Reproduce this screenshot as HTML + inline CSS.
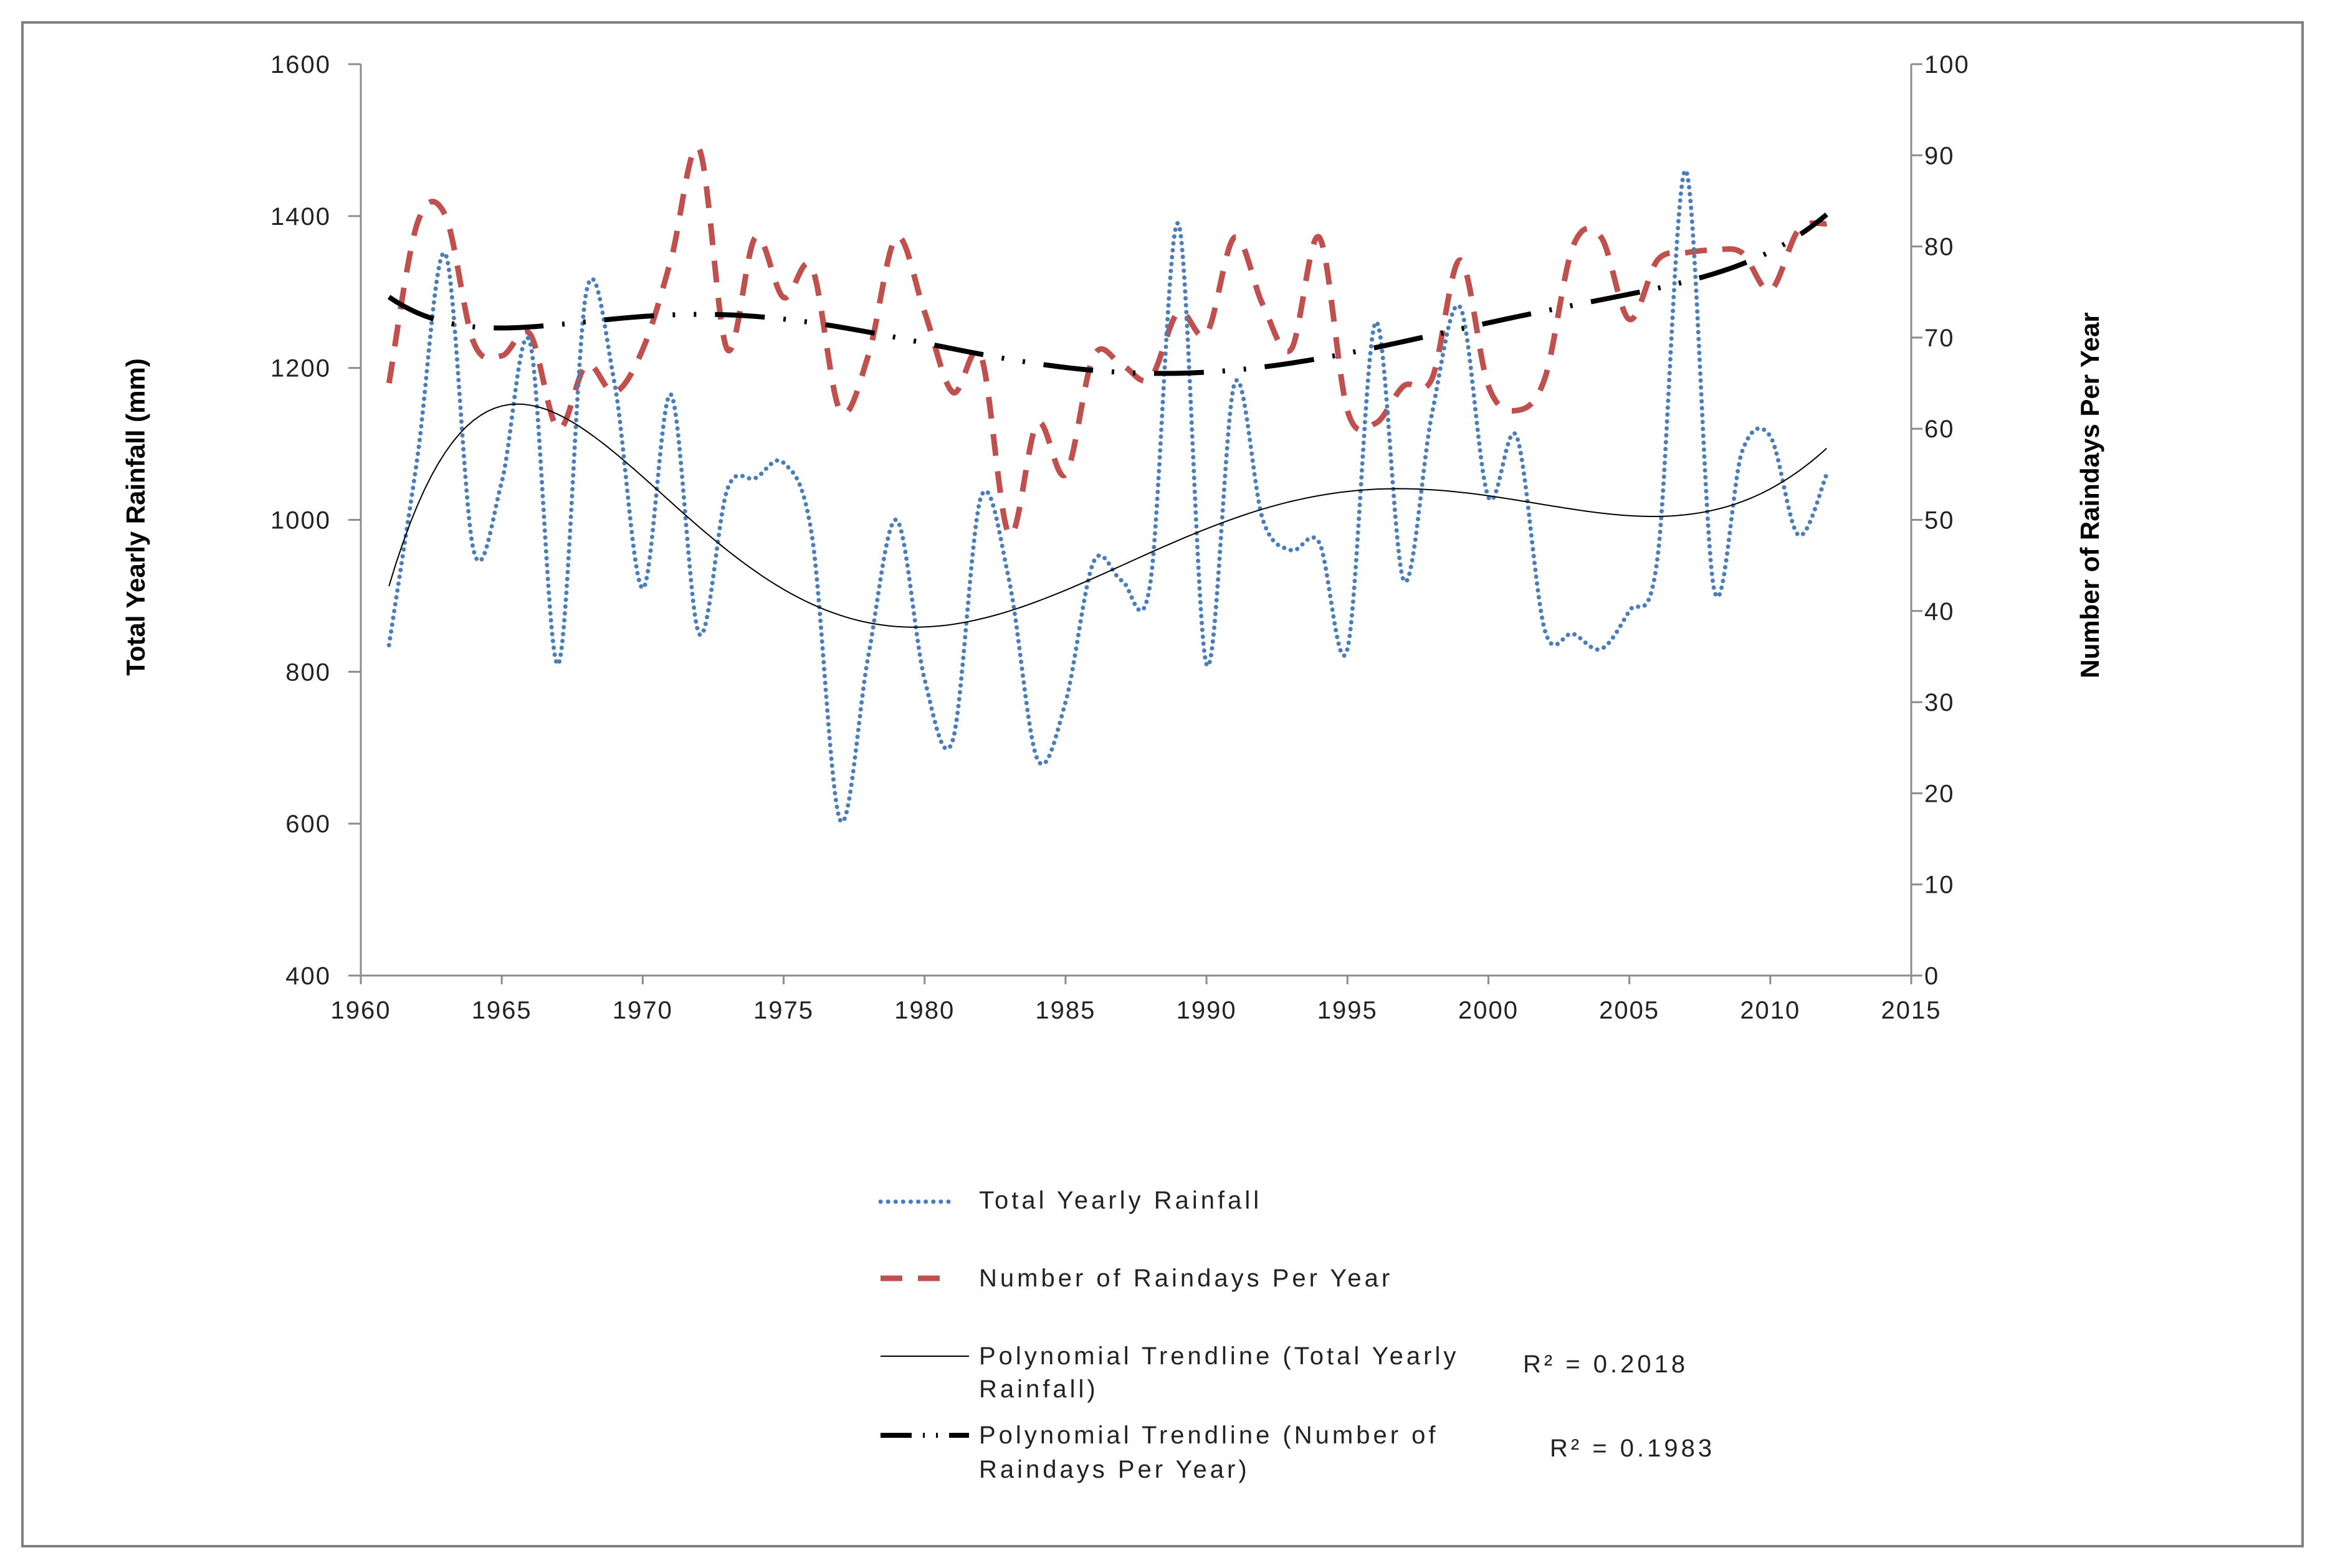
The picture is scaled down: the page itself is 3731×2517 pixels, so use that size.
<!DOCTYPE html>
<html><head><meta charset="utf-8"><style>
html,body{margin:0;padding:0;background:#fff;}
svg{display:block;font-family:"Liberation Sans",sans-serif;}
</style></head><body>
<svg id="chart" width="3731" height="2517" viewBox="0 0 3731 2517">
<rect x="36" y="36" width="3659" height="2446" fill="#fff" stroke="#7f7f7f" stroke-width="4"/>
<g id="axes"></g>
<g id="series"></g>
<text transform="translate(232,830) rotate(-90)" text-anchor="middle" font-size="42" font-weight="bold">Total Yearly Rainfall (mm)</text>
<text transform="translate(3368,795) rotate(-90)" text-anchor="middle" font-size="42" font-weight="bold">Number of Raindays Per Year</text>
<g font-size="40" fill="#222" letter-spacing="5">
 <g>
  <line x1="1413" y1="1929" x2="1530" y2="1929" stroke="#4a7ebb" stroke-width="7" stroke-dasharray="0.1 12" stroke-linecap="round"/>
  <text x="1571" y="1940">Total Yearly Rainfall</text></g>
 <g>
  <line x1="1413" y1="2052" x2="1530" y2="2052" stroke="#c0504d" stroke-width="9" stroke-dasharray="35 25"/>
  <text x="1571" y="2065">Number of Raindays Per Year</text></g>
 <g>
  <line x1="1413" y1="2177" x2="1555" y2="2177" stroke="#000" stroke-width="2"/>
  <text x="1571" y="2190">Polynomial Trendline (Total Yearly</text>
  <text x="1571" y="2243">Rainfall)</text>
  <text x="2444" y="2203">R² = 0.2018</text></g>
 <g>
  <line x1="1413" y1="2304" x2="1555" y2="2304" stroke="#000" stroke-width="8" stroke-dasharray="50 18 3 18 3 18"/>
  <text x="1571" y="2317">Polynomial Trendline (Number of</text>
  <text x="1571" y="2372">Raindays Per Year)</text>
  <text x="2487" y="2338">R² = 0.1983</text></g>
</g>
</svg>
<script>
const years = [];
for (let y = 1961; y <= 2012; y++) years.push(y);
const rainfall = [835,1080,1350,960,1050,1234,810,1300,1180,910,1165,850,1040,1055,1075,980,605,820,1000,790,710,1030,920,685,760,945,920,915,1390,810,1180,1000,960,970,830,1260,920,1140,1280,1030,1110,855,850,830,880,950,1460,910,1090,1110,980,1060];
const raindays = [65,82.5,83.4,69.5,68,70.4,60,67,64,68.7,78.5,90.7,68.7,81,74.4,77.7,62,68,81,72.8,64,68,48.4,60.6,55,68,67,65.5,72.8,70.4,81,73.6,68.7,81,62,60.6,64.7,65.5,78.5,64.7,62,65.5,80,81,72,78.5,79.3,79.6,79.3,75.2,81.8,82.5];
const xTicks = [1960,1965,1970,1975,1980,1985,1990,1995,2000,2005,2010,2015];
const leftTicks = [400,600,800,1000,1200,1400,1600];
const rightTicks = [0,10,20,30,40,50,60,70,80,90,100];

const L=579,R=3067,T=103,B=1566;
const xS=v=>L+(v-1960)/(2015-1960)*(R-L);
const yL=v=>B-(v-400)/1200*(B-T);
const yR=v=>B-v/100*(B-T);
const NS="http://www.w3.org/2000/svg";
function mk(tag,attrs,parent){const e=document.createElementNS(NS,tag);for(const k in attrs)e.setAttribute(k,attrs[k]);parent.appendChild(e);return e;}
const axes=document.getElementById('axes'), series=document.getElementById('series');
const ax='#8c8c8c';
let e;
e=mk('line',{x1:L,y1:T,x2:L,y2:B,stroke:ax,'stroke-width':3},axes);


e=mk('line',{x1:R,y1:T,x2:R,y2:B,stroke:ax,'stroke-width':3},axes);


e=mk('line',{x1:L-20,y1:B,x2:R,y2:B,stroke:ax,'stroke-width':3},axes);


xTicks.forEach(v=>{
  mk('line',{x1:xS(v),y1:B,x2:xS(v),y2:B+14,stroke:ax,'stroke-width':3},axes);
  const t=mk('text',{x:xS(v),y:B+69,'text-anchor':'middle','font-size':40,fill:'#222','letter-spacing':2},axes);t.textContent=v;
  
  
});
leftTicks.forEach(v=>{
  mk('line',{x1:L-20,y1:yL(v),x2:L,y2:yL(v),stroke:ax,'stroke-width':3},axes);
  const t=mk('text',{x:531,y:yL(v)+14,'text-anchor':'end','font-size':40,fill:'#222','letter-spacing':2},axes);t.textContent=v;
  
  
});
rightTicks.forEach(v=>{
  mk('line',{x1:R,y1:yR(v),x2:R+18,y2:yR(v),stroke:ax,'stroke-width':3},axes);
  const t=mk('text',{x:3088,y:yR(v)+14,'text-anchor':'start','font-size':40,fill:'#222','letter-spacing':2},axes);t.textContent=v;
  
  
});
function smooth(pts){
  let d=`M${pts[0][0]},${pts[0][1]}`;
  for(let i=0;i<pts.length-1;i++){
    const p0=pts[Math.max(0,i-1)],p1=pts[i],p2=pts[i+1],p3=pts[Math.min(pts.length-1,i+2)];
    const c1=[p1[0]+(p2[0]-p0[0])/6,p1[1]+(p2[1]-p0[1])/6];
    const c2=[p2[0]-(p3[0]-p1[0])/6,p2[1]-(p3[1]-p1[1])/6];
    d+=`C${c1[0]},${c1[1]} ${c2[0]},${c2[1]} ${p2[0]},${p2[1]}`;
  }
  return d;
}
function polyfit(xs,ys,n){
  const m=n+1,A=[];for(let i=0;i<m;i++){A.push(new Array(m+1).fill(0));}
  xs.forEach((x,k)=>{for(let i=0;i<m;i++){for(let j=0;j<m;j++)A[i][j]+=Math.pow(x,i+j);A[i][m]+=ys[k]*Math.pow(x,i);}});
  for(let i=0;i<m;i++){let p=i;for(let r=i+1;r<m;r++)if(Math.abs(A[r][i])>Math.abs(A[p][i]))p=r;[A[i],A[p]]=[A[p],A[i]];
    for(let r=0;r<m;r++){if(r===i)continue;const f=A[r][i]/A[i][i];for(let c=i;c<=m;c++)A[r][c]-=f*A[i][c];}}
  return A.map((row,i)=>row[m]/row[i]);
}
const tn=y=>(y-1986.5)/25.5;
function trendPath(vals,order,yf){
  const c=polyfit(years.map(tn),vals,order);const pts=[];
  for(let y=1961;y<=2012.001;y+=0.25){const t=tn(y);let v=0;c.forEach((ci,i)=>v+=ci*Math.pow(t,i));pts.push([xS(y),yf(v)]);}
  return 'M'+pts.map(p=>p[0].toFixed(1)+','+p[1].toFixed(1)).join('L');
}
e=mk('path',{d:smooth(years.map((y,i)=>[xS(y),yR(raindays[i])])),fill:'none',stroke:'#c0504d','stroke-width':9,'stroke-dasharray':'35 25'},series);


e=mk('path',{d:smooth(years.map((y,i)=>[xS(y),yL(rainfall[i])])),fill:'none',stroke:'#4a7ebb','stroke-width':7,'stroke-dasharray':'0.1 11','stroke-linecap':'round'},series);


e=mk('path',{d:trendPath(rainfall,6,yL),fill:'none',stroke:'#000','stroke-width':2},series);


e=mk('path',{d:trendPath(raindays,6,yR),fill:'none',stroke:'#000','stroke-width':8,'stroke-dasharray':'80 30 4 30 4 30'},series);


</script>
</body></html>
